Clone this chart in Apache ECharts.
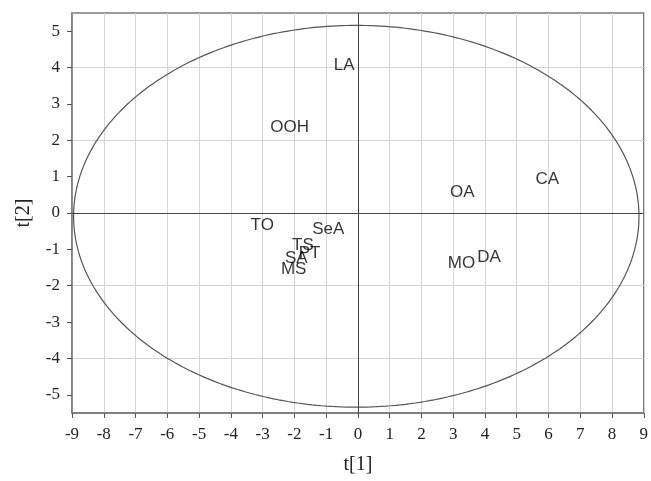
<!DOCTYPE html>
<html>
<head>
<meta charset="utf-8">
<style>
  html, body { margin: 0; padding: 0; background: #fff; }
  #chart { width: 651px; height: 481px; }
</style>
<script src="https://cdn.jsdelivr.net/npm/echarts@6/dist/echarts.min.js"></script>
</head>
<body>
<div id="chart"></div>
<script>
// Score plot: t[1] vs t[2] with observation labels
const names = ['LA', 'OOH', 'OA', 'CA', 'MO', 'DA', 'TO', 'SeA', 'TS', 'PT', 'SA', 'MS'];
const t1 = [-0.43, -2.15, 3.29, 5.96, 3.26, 4.13, -3.01, -0.93, -1.73, -1.52, -1.94, -2.02];
const t2 = [4.06, 2.36, 0.56, 0.93, -1.37, -1.23, -0.35, -0.46, -0.89, -1.11, -1.25, -1.55];

// Axis ticks
const xTicks = [-9, -8, -7, -6, -5, -4, -3, -2, -1, 0, 1, 2, 3, 4, 5, 6, 7, 8, 9];
const yTicks = [-5, -4, -3, -2, -1, 0, 1, 2, 3, 4, 5];

// Confidence ellipse (centre and semi-axes in score units)
const ellipseCenter = [-0.05, -0.09];
const ellipseRadii = [8.9, 5.25];

const ellipsePts = [];
for (let i = 0; i <= 360; i++) {
  const a = i * Math.PI / 180;
  ellipsePts.push([ellipseCenter[0] + ellipseRadii[0] * Math.cos(a),
                   ellipseCenter[1] + ellipseRadii[1] * Math.sin(a)]);
}

const scores = names.map((n, i) => [t1[i], t2[i], n]);

const serif = '"Liberation Serif", "DejaVu Serif", serif';
const sans = '"Liberation Sans", Arial, sans-serif';

const chart = echarts.init(document.getElementById('chart'));
chart.setOption({
  animation: false,
  grid: { left: 72, right: 7, top: 13, bottom: 68, show: true, borderColor: '#7a7a7a', borderWidth: 1.5 },
  xAxis: {
    type: 'value', min: -9, max: 9, interval: 1,
    name: 't[1]', nameLocation: 'middle', nameGap: 42,
    nameTextStyle: { fontFamily: serif, fontSize: 20, color: '#222' },
    axisLine: { show: true, onZero: false, lineStyle: { color: '#7a7a7a', width: 1.5 } },
    axisTick: { show: true, inside: false, length: 5, lineStyle: { color: '#555' } },
    axisLabel: { fontFamily: serif, fontSize: 17, color: '#222', margin: 13,
                 customValues: xTicks },
    splitLine: { show: true, lineStyle: { color: '#d4d4d4', width: 1 } }
  },
  yAxis: {
    type: 'value', min: -5.5, max: 5.5, interval: 0.5,
    name: 't[2]', nameLocation: 'middle', nameGap: 38,
    nameTextStyle: { fontFamily: serif, fontSize: 20, color: '#222' },
    axisLine: { show: true, onZero: false, lineStyle: { color: '#7a7a7a', width: 1.5 } },
    axisTick: { show: true, inside: false, length: 5, lineStyle: { color: '#555' },
                customValues: yTicks },
    axisLabel: { fontFamily: serif, fontSize: 17, color: '#222', margin: 12,
                 customValues: yTicks },
    splitLine: { show: true, lineStyle: { color: ['rgba(0,0,0,0)', '#d4d4d4'], width: 1 } }
  },
  series: [
    {
      type: 'line',
      data: ellipsePts,
      showSymbol: false,
      smooth: false,
      silent: true,
      lineStyle: { color: '#555', width: 1.2 },
      markLine: {
        silent: true,
        symbol: 'none',
        label: { show: false },
        lineStyle: { color: '#444', width: 1, type: 'solid' },
        data: [{ xAxis: 0 }, { yAxis: 0 }]
      },
      z: 3
    },
    {
      type: 'scatter',
      data: scores,
      symbolSize: 0,
      label: {
        show: true,
        position: 'inside',
        formatter: p => p.data[2],
        fontFamily: sans,
        fontSize: 17,
        color: '#000'
      },
      z: 5
    }
  ]
});
</script>
</body>
</html>
